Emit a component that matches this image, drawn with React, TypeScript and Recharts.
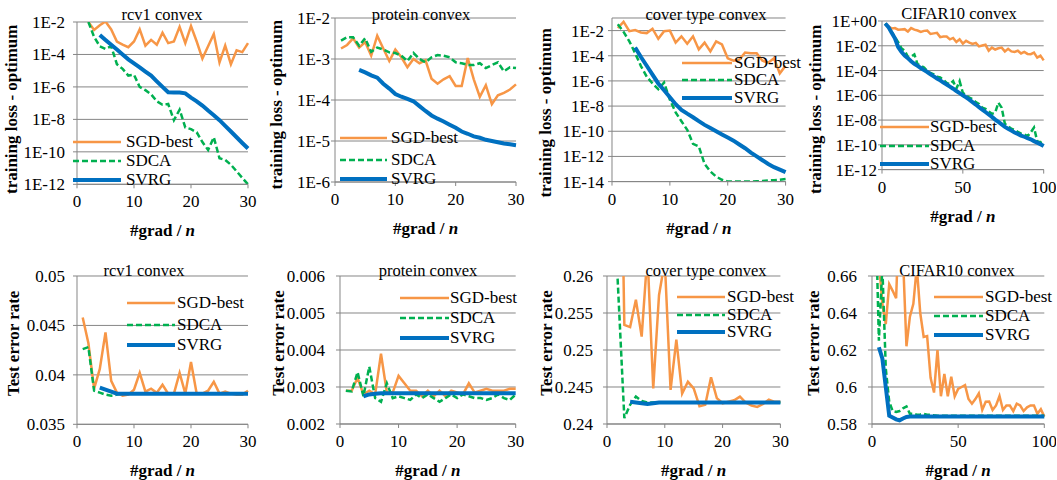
import { LineChart, Line, XAxis, YAxis, CartesianGrid } from "recharts";

// x positions (#grad / n)
const iters30 = [1, 2, 3, 4, 5, 6, 7, 8, 9, 10, 11, 12, 13, 14, 15, 16, 17, 18, 19, 20, 21, 22, 23, 24, 25, 26, 27, 28, 29, 30];
const iters100 = [2, 4, 6, 8, 10, 12, 14, 16, 18, 20, 22, 24, 26, 28, 30, 32, 34, 36, 38, 40, 42, 44, 46, 48, 50, 52, 54, 56, 58, 60, 62, 64, 66, 68, 70, 72, 74, 76, 78, 80, 82, 84, 86, 88, 90, 92, 94, 96, 98, 100];

// training loss - optimum
const rcv1LossSgd = [null, 1e-2, 3.2e-3, 6.3e-3, 1.07e-2, 3.5e-3, 6.3e-4, 4e-4, 2.8e-4, 6.3e-4, 3.5e-3, 3.5e-4, 7.9e-4, 4e-4, 2.2e-3, 5e-4, 6.3e-4, 5e-3, 5e-4, 5.6e-3, 6.3e-4, 5.6e-5, 3.2e-4, 1.8e-3, 3.2e-5, 3.5e-4, 2.5e-5, 1.8e-4, 1.4e-4, 5e-4];
const rcv1LossSdca = [null, 1e-2, 1.2e-3, 3.2e-4, 2.2e-4, 3.2e-4, 2.5e-5, 1.3e-5, 5e-6, 5.6e-6, 1e-6, 6.3e-7, 3.5e-7, 1.3e-7, 7.9e-8, 8.9e-8, 8.9e-9, 4e-8, 3.2e-9, 2.5e-9, 1.6e-9, 4e-10, 1.3e-10, 7.9e-10, 4e-11, 3.2e-11, 1.6e-11, 6.3e-12, 2.5e-12, 1e-12];
const rcv1LossSvrg = [null, null, null, 1.6e-3, 7.9e-4, 4e-4, 2e-4, 1e-4, 5e-5, 2.8e-5, 1.6e-5, 8.9e-6, 5e-6, 2.2e-6, 1e-6, 4.7e-7, 4.5e-7, 4.5e-7, 4e-7, 2.2e-7, 1.3e-7, 7.1e-8, 3.5e-8, 1.8e-8, 8.9e-9, 4e-9, 1.8e-9, 7.9e-10, 3.5e-10, 1.6e-10];

const proteinLossSgd = [1.8e-3, 2.2e-3, 3.2e-3, 1.9e-3, 2.6e-3, 1.2e-3, 3.7e-3, 1.8e-3, 8.9e-4, 1.7e-3, 1.1e-3, 6.3e-4, 1e-3, 7.9e-4, 9.3e-4, 3.3e-4, 2.5e-4, 3.2e-4, 3.8e-4, 2.2e-4, 2.2e-4, 1.05e-3, 3.2e-4, 1.2e-4, 2.3e-4, 7.9e-5, 1.3e-4, 1.5e-4, 1.8e-4, 2.4e-4];
const proteinLossSdca = [2.8e-3, 3.4e-3, 3.4e-3, 2.1e-3, 3.2e-3, 1.5e-3, 1.9e-3, 1.7e-3, 1.45e-3, 1.4e-3, 1.2e-3, 8.9e-4, 1.4e-3, 1e-3, 8.3e-4, 1.1e-3, 1.25e-3, 1.2e-3, 1.1e-3, 8.3e-4, 7.9e-4, 7.2e-4, 7.1e-4, 7.9e-4, 6e-4, 7.1e-4, 8.3e-4, 5e-4, 6.3e-4, 6e-4];
const proteinLossSvrg = [null, null, null, 5.4e-4, 4.7e-4, 4e-4, 3.5e-4, 2.5e-4, 1.9e-4, 1.4e-4, 1.2e-4, 1.07e-4, 9.3e-5, 7.1e-5, 5.4e-5, 4.2e-5, 3.5e-5, 3e-5, 2.5e-5, 2.1e-5, 1.7e-5, 1.5e-5, 1.3e-5, 1.2e-5, 1.07e-5, 1e-5, 9.3e-6, 8.7e-6, 8.3e-6, 7.9e-6];

const coverLossSgd = [1.6e-2, 5e-2, 8.9e-3, 1.1e-2, 7.1e-3, 6.3e-3, 1.4e-2, 2.2e-3, 8.9e-3, 1e-2, 1.1e-3, 3.5e-3, 8.9e-4, 3.5e-3, 3.2e-4, 1.1e-3, 2.2e-4, 1.4e-3, 7.9e-4, 6.3e-5, 4e-5, 5e-5, 1.8e-4, 1.6e-4, 1.6e-4, 4e-5, 2.8e-5, 6.3e-5, 4e-6, 1.6e-5];
const coverLossSdca = [3.2e-2, 7.9e-3, 1.4e-3, 1.6e-4, 1.5e-5, 2.2e-6, 6.3e-7, 2.2e-7, 7.4e-7, 3.2e-8, 3.2e-9, 6.3e-10, 1.3e-10, 1e-11, 6.3e-12, 2.5e-13, 6.3e-14, 2.5e-14, 1.4e-14, 1e-14, 1e-14, 1e-14, 1e-14, 1e-14, 1.07e-14, 1.1e-14, 1.25e-14, 1.3e-14, 1.4e-14, 1.6e-14];
const coverLossSvrg = [null, null, null, 4.5e-4, 7.9e-5, 1.6e-5, 3.2e-6, 6.3e-7, 1.8e-7, 5e-8, 1.4e-8, 5e-9, 2.5e-9, 1.3e-9, 6.3e-10, 3.2e-10, 1.8e-10, 1e-10, 5.6e-11, 3.2e-11, 1.8e-11, 8.9e-12, 4.5e-12, 2e-12, 1e-12, 5e-13, 2.5e-13, 1.4e-13, 8.9e-14, 5.6e-14];

const cifarLossSgd = [0.63, 0.35, 0.25, 0.27, 0.2, 0.21, 0.22, 0.14, 0.27, 0.2, 0.17, 0.13, 0.16, 0.17, 0.089, 0.1, 0.11, 0.05, 0.056, 0.056, 0.033, 0.043, 0.02, 0.033, 0.015, 0.025, 0.018, 0.014, 0.017, 0.0089, 0.0105, 0.012, 0.004, 0.0071, 0.005, 0.0063, 0.0071, 0.0035, 0.0056, 0.0035, 0.0032, 0.004, 0.0024, 0.0032, 0.0022, 0.0021, 0.0028, 0.0011, 0.0016, 0.00066];
const cifarLossSdca = [0.63, 0.32, 0.13, 0.05, 0.02, 6.3e-3, 4e-3, 1.3e-3, 1.3e-3, 2e-3, 3.2e-4, 2.5e-4, 1.8e-4, 8.9e-5, 6.3e-5, 5e-5, 3.2e-5, 2.8e-5, 1.8e-5, 1e-5, 7.9e-6, 1.4e-5, 3.5e-6, 1.4e-5, 1.6e-6, 1e-6, 6.3e-7, 5e-7, 2.8e-7, 2e-7, 1e-7, 7.9e-8, 5e-8, 3.2e-8, 4e-8, 2.5e-7, 1e-7, 5e-9, 3.2e-9, 2e-9, 1.6e-9, 1.1e-9, 7.9e-10, 7.1e-10, 5e-10, 1e-9, 2.5e-9, 2e-10, 1.6e-10, 2.5e-10];
const cifarLossSvrg = [0.63, 0.32, 0.11, 0.04, 7.9e-3, 3.2e-3, 1.6e-3, 1e-3, 5.6e-4, 3.5e-4, 2.4e-4, 1.6e-4, 1.07e-4, 7.6e-5, 5e-5, 3.4e-5, 2.3e-5, 1.6e-5, 1.07e-5, 7.4e-6, 5e-6, 3.4e-6, 2.2e-6, 1.5e-6, 1e-6, 6.8e-7, 4.5e-7, 2.8e-7, 1.8e-7, 1.1e-7, 7.1e-8, 4.5e-8, 2.8e-8, 1.8e-8, 1.1e-8, 7.1e-9, 4.5e-9, 2.8e-9, 2e-9, 1.4e-9, 1e-9, 7.6e-10, 5.6e-10, 4.5e-10, 3.5e-10, 2.8e-10, 2e-10, 1.5e-10, 1.1e-10, 7.9e-11];

// test error rate
const rcv1ErrSgd = [0.0458, 0.0432, 0.0386, 0.0406, 0.0443, 0.0394, 0.0382, 0.0379, 0.038, 0.0385, 0.0402, 0.0383, 0.0386, 0.0382, 0.039, 0.0381, 0.0381, 0.0402, 0.0381, 0.0413, 0.0381, 0.0381, 0.0384, 0.0393, 0.0381, 0.0383, 0.0381, 0.038, 0.038, 0.0384];
const rcv1ErrSdca = [0.0426, 0.0428, 0.0384, 0.0382, 0.038, 0.0379, 0.038, 0.0381, 0.0381, 0.0381, 0.0381, 0.0381, 0.0381, 0.0381, 0.0381, 0.0381, 0.0381, 0.0381, 0.0381, 0.0381, 0.0381, 0.0381, 0.0381, 0.0381, 0.0381, 0.0381, 0.0381, 0.0381, 0.0381, 0.0381];
const rcv1ErrSvrg = [null, null, null, 0.0387, 0.0385, 0.0383, 0.0381, 0.0381, 0.0381, 0.0381, 0.0381, 0.0381, 0.0381, 0.0381, 0.0381, 0.0381, 0.0381, 0.0381, 0.0381, 0.0381, 0.0381, 0.0381, 0.0381, 0.0381, 0.0381, 0.0381, 0.0381, 0.0381, 0.0381, 0.0381];

const proteinErrSgd = [0.0029, 0.0029, 0.00325, 0.0028, 0.0029, 0.0028, 0.0039, 0.00285, 0.00285, 0.0033, 0.0031, 0.0029, 0.0029, 0.00275, 0.0029, 0.00275, 0.0029, 0.00275, 0.0029, 0.00285, 0.0028, 0.0031, 0.00285, 0.0029, 0.00295, 0.0029, 0.0029, 0.0029, 0.00295, 0.00295];
const proteinErrSdca = [0.0029, 0.00288, 0.0034, 0.00275, 0.00355, 0.0027, 0.0026, 0.0031, 0.0027, 0.00275, 0.0027, 0.00265, 0.0028, 0.0027, 0.0028, 0.0027, 0.0026, 0.0027, 0.0028, 0.0027, 0.0028, 0.00275, 0.0027, 0.0027, 0.00265, 0.0027, 0.0028, 0.0027, 0.00265, 0.0028];
const proteinErrSvrg = [null, null, null, 0.00275, 0.0028, 0.00282, 0.00283, 0.00283, 0.00283, 0.00283, 0.00283, 0.00283, 0.00283, 0.00283, 0.00283, 0.00283, 0.00283, 0.00283, 0.00283, 0.00283, 0.00283, 0.00283, 0.00283, 0.00283, 0.00283, 0.00283, 0.00283, 0.00283, 0.00283, 0.00283];

const coverErrSgd = [null, 0.3, 0.2534, 0.2531, 0.2568, 0.2518, 0.263, 0.2448, 0.2574, 0.262, 0.2446, 0.2514, 0.2441, 0.2457, 0.2448, 0.2424, 0.2426, 0.2463, 0.2435, 0.2428, 0.243, 0.2432, 0.2437, 0.2429, 0.2425, 0.2423, 0.2427, 0.2433, 0.243, 0.243];
const coverErrSdca = [0.273, 0.257, 0.2408, 0.2426, 0.2437, 0.2431, 0.2429, 0.2429, 0.2429, 0.2429, 0.2429, 0.2429, 0.2429, 0.2429, 0.2429, 0.2429, 0.2429, 0.2429, 0.2429, 0.2429, 0.2429, 0.2429, 0.2429, 0.2429, 0.2429, 0.2429, 0.2429, 0.2429, 0.2429, 0.2429];
const coverErrSvrg = [null, null, null, 0.243, 0.2429, 0.2428, 0.2427, 0.2428, 0.2429, 0.2429, 0.2429, 0.2429, 0.2429, 0.2429, 0.2429, 0.2429, 0.2429, 0.2429, 0.2429, 0.2429, 0.2429, 0.2429, 0.2429, 0.2429, 0.2429, 0.2429, 0.2429, 0.2429, 0.2429, 0.2429];

const cifarErrSgd = [null, 0.668, 0.645, 0.634, 0.6556, 0.652, 0.648, 0.7, 0.67, 0.622, 0.638, 0.645, 0.665, 0.64, 0.627, 0.6275, 0.605, 0.597, 0.62, 0.595, 0.607, 0.595, 0.6056, 0.595, 0.599, 0.6, 0.601, 0.5935, 0.591, 0.5935, 0.5966, 0.5876, 0.592, 0.5921, 0.5876, 0.59, 0.5951, 0.5876, 0.59, 0.59, 0.587, 0.591, 0.59, 0.587, 0.589, 0.59, 0.59, 0.5855, 0.588, 0.584];
const cifarErrSdca = [0.7, 0.625, 0.665, 0.61, 0.592, 0.587, 0.5865, 0.587, 0.5885, 0.5895, 0.5855, 0.5855, 0.585, 0.5852, 0.5855, 0.585, 0.585, 0.5847, 0.5845, 0.5845, 0.5845, 0.5845, 0.5845, 0.5845, 0.5845, 0.5845, 0.5845, 0.5845, 0.5845, 0.5845, 0.5845, 0.5845, 0.5845, 0.5845, 0.5845, 0.5845, 0.5845, 0.5845, 0.5845, 0.5845, 0.5845, 0.5845, 0.5845, 0.5845, 0.5845, 0.5845, 0.5845, 0.5845, 0.5845, 0.5845];
const cifarErrSvrg = [null, 0.6215, 0.6155, 0.6, 0.5845, 0.5835, 0.5825, 0.582, 0.583, 0.5838, 0.584, 0.584, 0.584, 0.584, 0.584, 0.584, 0.584, 0.584, 0.584, 0.584, 0.584, 0.584, 0.584, 0.584, 0.584, 0.584, 0.584, 0.584, 0.584, 0.584, 0.584, 0.584, 0.584, 0.584, 0.584, 0.584, 0.584, 0.584, 0.584, 0.584, 0.584, 0.584, 0.584, 0.584, 0.584, 0.584, 0.584, 0.584, 0.584, 0.584];

// axis ticks
const ticks30 = [0, 10, 20, 30];
const ticks100 = [0, 50, 100];
const rcv1LossTicks = [1e-12, 1e-10, 1e-8, 1e-6, 1e-4, 1e-2];
const proteinLossTicks = [1e-6, 1e-5, 1e-4, 1e-3, 1e-2];
const coverLossTicks = [1e-14, 1e-12, 1e-10, 1e-8, 1e-6, 1e-4, 1e-2];
const cifarLossTicks = [1e-12, 1e-10, 1e-8, 1e-6, 1e-4, 1e-2, 1];
const rcv1ErrTicks = [0.035, 0.04, 0.045, 0.05];
const proteinErrTicks = [0.002, 0.003, 0.004, 0.005, 0.006];
const coverErrTicks = [0.24, 0.245, 0.25, 0.255, 0.26];
const cifarErrTicks = [0.58, 0.6, 0.62, 0.64, 0.66];

const seriesNames = ["SGD-best", "SDCA", "SVRG"];

const FONT = '"Liberation Serif", "Times New Roman", serif';
const GRID = "#868686";
const COLORS = ["#F79646", "#00B050", "#0070C0"];
const WIDTHS = [2.5, 2.5, 4];
const DASHES = [undefined, "6 3", undefined];
const L = 80;
const T = 8;
const R = 12;
const B = 60;

const expShort = (v: number) => `1E${Math.round(Math.log10(v))}`;
const expPadded = (v: number) => {
  const e = Math.round(Math.log10(v));
  return `1E${e < 0 ? "-" : "+"}${String(Math.abs(e)).padStart(2, "0")}`;
};

type Vals = (number | null)[];

interface PanelProps {
  iters: number[];
  sgd: Vals;
  sdca: Vals;
  svrg: Vals;
  left: number;
  top: number;
  right: number;
  bottom: number;
  xMax: number;
  xTicks: number[];
  yDomain: [number, number];
  yTicks: number[];
  log?: boolean;
  yFormat?: (v: number) => string;
  yLabel: string;
  yLabelGap: number;
  yLabelMid: number;
  tickGap: number;
}

function Panel(p: PanelProps) {
  const w = p.right - p.left;
  const h = p.bottom - p.top;
  const rows = p.iters.map((x, i) => ({ x, sgd: p.sgd[i], sdca: p.sdca[i], svrg: p.svrg[i] }));
  const tick = { fill: "#000", fontSize: 17, fontFamily: FONT };

  const yLabel = () => {
    const cx = L - p.yLabelGap;
    const cy = p.yLabelMid - (p.top - T);
    return (
      <text x={cx} y={cy} transform={`rotate(-90 ${cx} ${cy})`} textAnchor="middle" dominantBaseline="central"
        fontWeight="bold" fontSize={17} fontFamily={FONT} fill="#000">
        {p.yLabel}
      </text>
    );
  };
  const xLabel = () => (
    <text x={L + w / 2} y={T + h + 52} textAnchor="middle" fontWeight="bold" fontSize={17} fontFamily={FONT} fill="#000">
      #grad / <tspan fontStyle="italic">n</tspan>
    </text>
  );

  return (
    <div style={{ position: "absolute", left: p.left - L, top: p.top - T }}>
      <LineChart width={w + L + R} height={h + T + B} data={rows} margin={{ top: T, right: R, left: 0, bottom: 0 }}>
        <CartesianGrid vertical={false} stroke={GRID} />
        <XAxis dataKey="x" type="number" domain={[0, p.xMax]} ticks={p.xTicks} interval={0} height={B}
          tickSize={4} tickMargin={7} stroke={GRID} tick={tick} label={xLabel} />
        <YAxis type="number" scale={p.log ? "log" : "linear"} domain={p.yDomain} ticks={p.yTicks} interval={0}
          allowDataOverflow width={L} tickSize={4} tickMargin={p.tickGap} stroke={GRID} tick={tick}
          tickFormatter={p.yFormat} label={yLabel} />
        {["sgd", "sdca", "svrg"].map((k, i) => (
          <Line key={k} type="linear" dataKey={k} stroke={COLORS[i]} strokeWidth={WIDTHS[i]}
            strokeDasharray={DASHES[i]} dot={false} isAnimationActive={false} />
        ))}
      </LineChart>
    </div>
  );
}

function Title({ text, cx, cy }: { text: string; cx: number; cy: number }) {
  return (
    <div style={{ position: "absolute", left: cx - 100, top: cy - 10, width: 200, height: 20, lineHeight: "20px",
      textAlign: "center", fontSize: 16.5 }}>
      {text}
    </div>
  );
}

function Key({ x, len, textX, rows }: { x: number; len: number; textX: number; rows: number[] }) {
  return (
    <>
      {rows.map((y, i) => (
        <div key={i} style={{ position: "absolute", left: x, top: y - 11, height: 22, display: "flex",
          alignItems: "center", whiteSpace: "nowrap" }}>
          <svg width={len} height={8} style={{ display: "block" }}>
            <line x1={0} y1={4} x2={len} y2={4} stroke={COLORS[i]} strokeWidth={WIDTHS[i]} strokeDasharray={DASHES[i]} />
          </svg>
          <span style={{ marginLeft: textX - x - len, fontSize: 17, lineHeight: "22px" }}>{seriesNames[i]}</span>
        </div>
      ))}
    </>
  );
}

export default function App() {
  const loss = "training loss - optimum";
  const err = "Test error rate";
  return (
    <div style={{ position: "absolute", left: 0, top: 0, width: 1057, height: 480, background: "#fff",
      overflow: "hidden", fontFamily: FONT, color: "#000" }}>
      <Panel iters={iters30} sgd={rcv1LossSgd} sdca={rcv1LossSdca} svrg={rcv1LossSvrg}
        left={76.7} top={21.7} right={247.7} bottom={184} xMax={30} xTicks={ticks30}
        yDomain={[1e-12, 1e-2]} yTicks={rcv1LossTicks} log yFormat={expShort} yLabel={loss}
        yLabelGap={65} yLabelMid={109} tickGap={8} />
      <Panel iters={iters30} sgd={proteinLossSgd} sdca={proteinLossSdca} svrg={proteinLossSvrg}
        left={334.7} top={18.3} right={515.7} bottom={182.3} xMax={30} xTicks={ticks30}
        yDomain={[1e-6, 1e-2]} yTicks={proteinLossTicks} log yFormat={expShort} yLabel={loss}
        yLabelGap={58} yLabelMid={105} tickGap={1} />
      <Panel iters={iters30} sgd={coverLossSgd} sdca={coverLossSdca} svrg={coverLossSvrg}
        left={611.7} top={18.1} right={785.3} bottom={181.7} xMax={30} xTicks={ticks30}
        yDomain={[1e-14, 1e-1]} yTicks={coverLossTicks} log yFormat={expShort} yLabel={loss}
        yLabelGap={66} yLabelMid={113} tickGap={4} />
      <Panel iters={iters100} sgd={cifarLossSgd} sdca={cifarLossSdca} svrg={cifarLossSvrg}
        left={882.3} top={20.7} right={1044} bottom={169.3} xMax={100} xTicks={ticks100}
        yDomain={[1e-12, 1]} yTicks={cifarLossTicks} log yFormat={expPadded} yLabel={loss}
        yLabelGap={66} yLabelMid={109} tickGap={1} />

      <Panel iters={iters30} sgd={rcv1ErrSgd} sdca={rcv1ErrSdca} svrg={rcv1ErrSvrg}
        left={76.7} top={275.7} right={247.7} bottom={424} xMax={30} xTicks={ticks30}
        yDomain={[0.035, 0.05]} yTicks={rcv1ErrTicks} yLabel={err} yLabelGap={63} yLabelMid={343} tickGap={8} />
      <Panel iters={iters30} sgd={proteinErrSgd} sdca={proteinErrSdca} svrg={proteinErrSvrg}
        left={340} top={276} right={515.7} bottom={424} xMax={30} xTicks={ticks30}
        yDomain={[0.002, 0.006]} yTicks={proteinErrTicks} yLabel={err} yLabelGap={61} yLabelMid={343} tickGap={11} />
      <Panel iters={iters30} sgd={coverErrSgd} sdca={coverErrSdca} svrg={coverErrSvrg}
        left={607.3} top={276} right={780.7} bottom={424} xMax={30} xTicks={ticks30}
        yDomain={[0.24, 0.26]} yTicks={coverErrTicks} yLabel={err} yLabelGap={60.6} yLabelMid={343} tickGap={10} />
      <Panel iters={iters100} sgd={cifarErrSgd} sdca={cifarErrSdca} svrg={cifarErrSvrg}
        left={871.7} top={276} right={1044} bottom={424} xMax={100} xTicks={ticks100}
        yDomain={[0.58, 0.66]} yTicks={cifarErrTicks} yLabel={err} yLabelGap={58.4} yLabelMid={343} tickGap={11} />

      <Title text="rcv1 convex" cx={162} cy={15} />
      <Title text="protein convex" cx={421} cy={15} />
      <Title text="cover type convex" cx={706} cy={15} />
      <Title text="CIFAR10 convex" cx={959} cy={14} />
      <Title text="rcv1 convex" cx={144} cy={271} />
      <Title text="protein convex" cx={428} cy={271} />
      <Title text="cover type convex" cx={706} cy={271} />
      <Title text="CIFAR10 convex" cx={957} cy={271} />

      <Key x={73} len={48} textX={126} rows={[141.5, 161, 180]} />
      <Key x={340} len={47} textX={391} rows={[138, 160, 179]} />
      <Key x={682} len={50} textX={734} rows={[62.5, 80, 98]} />
      <Key x={880} len={49} textX={930} rows={[127, 145.5, 163.5]} />
      <Key x={127} len={48} textX={177} rows={[303, 324.5, 345]} />
      <Key x={400} len={49} textX={450} rows={[298, 318, 338]} />
      <Key x={677} len={48} textX={727} rows={[297, 315, 332]} />
      <Key x={934} len={49} textX={985} rows={[296.5, 315.5, 335]} />
    </div>
  );
}
